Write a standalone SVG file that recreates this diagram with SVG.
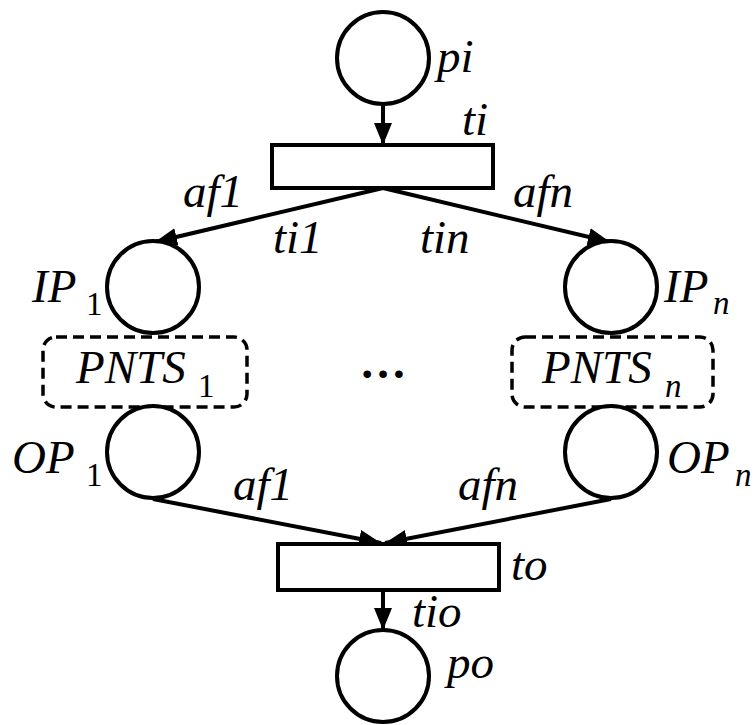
<svg xmlns="http://www.w3.org/2000/svg" width="755" height="725" viewBox="0 0 755 725" font-family="Liberation Serif, serif">
<style>
.pl{fill:#fff;stroke:#000;stroke-width:4}
.tr{fill:#fff;stroke:#000;stroke-width:4}
.sub{fill:none;stroke:#000;stroke-width:3.5;stroke-dasharray:11 6}
.arc{fill:none;stroke:#000;stroke-width:4}
</style>
<defs>
<marker id="ah" markerUnits="userSpaceOnUse" markerWidth="24" markerHeight="20" refX="22" refY="9" orient="auto">
<path d="M0,0 L22,9 L0,18 Z" fill="#000"/>
</marker>
</defs>
<rect width="755" height="725" fill="#fff"/>
<g id="connectors">
<line class="arc" x1="383" y1="105" x2="383" y2="145" marker-end="url(#ah)"/>
<line class="arc" x1="383" y1="188" x2="155" y2="242" marker-end="url(#ah)"/>
<line class="arc" x1="383" y1="188" x2="610" y2="242" marker-end="url(#ah)"/>
<line class="arc" x1="153" y1="499" x2="381" y2="543" marker-end="url(#ah)"/>
<line class="arc" x1="611" y1="499" x2="385" y2="543" marker-end="url(#ah)"/>
<line class="arc" x1="383" y1="590" x2="383" y2="630" marker-end="url(#ah)"/>
</g>
<g id="pi"><circle class="pl" cx="383" cy="58" r="46"/><text x="437" y="72" font-family="Liberation Serif, serif" font-style="italic" font-size="47">pi</text></g>
<g id="ti"><rect class="tr" x="272" y="145" width="221" height="43"/><text x="462" y="135" font-family="Liberation Serif, serif" font-style="italic" font-size="47">ti</text></g>
<g id="IP1"><circle class="pl" cx="153" cy="287" r="46"/><text x="32" y="302" font-family="Liberation Serif, serif" font-style="italic" font-size="47">IP</text><text x="86" y="315" font-family="Liberation Serif, serif" font-size="33">1</text></g>
<g id="IPn"><circle class="pl" cx="611" cy="287" r="46"/><text x="664" y="302" font-family="Liberation Serif, serif" font-style="italic" font-size="47">IP</text><text x="713" y="314" font-family="Liberation Serif, serif" font-style="italic" font-size="33">n</text></g>
<g id="PNTS1"><rect class="sub" x="43" y="337" width="204" height="70" rx="13"/><text x="76" y="383" font-family="Liberation Serif, serif" font-style="italic" font-size="47">PNTS</text><text x="198" y="397" font-family="Liberation Serif, serif" font-size="33">1</text></g>
<g id="PNTSn"><rect class="sub" x="512" y="337" width="201" height="70" rx="13"/><text x="542" y="383" font-family="Liberation Serif, serif" font-style="italic" font-size="47">PNTS</text><text x="665" y="397" font-family="Liberation Serif, serif" font-style="italic" font-size="33">n</text></g>
<g id="dots"><text x="383" y="378" text-anchor="middle" font-family="Liberation Serif, serif" font-weight="bold" font-size="47">…</text></g>
<g id="OP1"><circle class="pl" cx="153" cy="452" r="46"/><text x="12" y="473" font-family="Liberation Serif, serif" font-style="italic" font-size="47">OP</text><text x="86" y="486" font-family="Liberation Serif, serif" font-size="33">1</text></g>
<g id="OPn"><circle class="pl" cx="611" cy="452" r="46"/><text x="667" y="473" font-family="Liberation Serif, serif" font-style="italic" font-size="47">OP</text><text x="735" y="486" font-family="Liberation Serif, serif" font-style="italic" font-size="33">n</text></g>
<g id="to"><rect class="tr" x="278" y="544" width="221" height="46"/><text x="511" y="580" font-family="Liberation Serif, serif" font-style="italic" font-size="47">to</text></g>
<g id="po"><circle class="pl" cx="383" cy="676" r="46"/><text x="447" y="678" font-family="Liberation Serif, serif" font-style="italic" font-size="47">po</text></g>
<g id="labels" font-family="Liberation Serif, serif" font-style="italic" font-size="47">
<text x="183" y="207">af1</text>
<text x="273" y="253">ti1</text>
<text x="420" y="253">tin</text>
<text x="513" y="207">afn</text>
<text x="233" y="500">af1</text>
<text x="458" y="500">afn</text>
<text x="412" y="627">tio</text>
</g>
</svg>
